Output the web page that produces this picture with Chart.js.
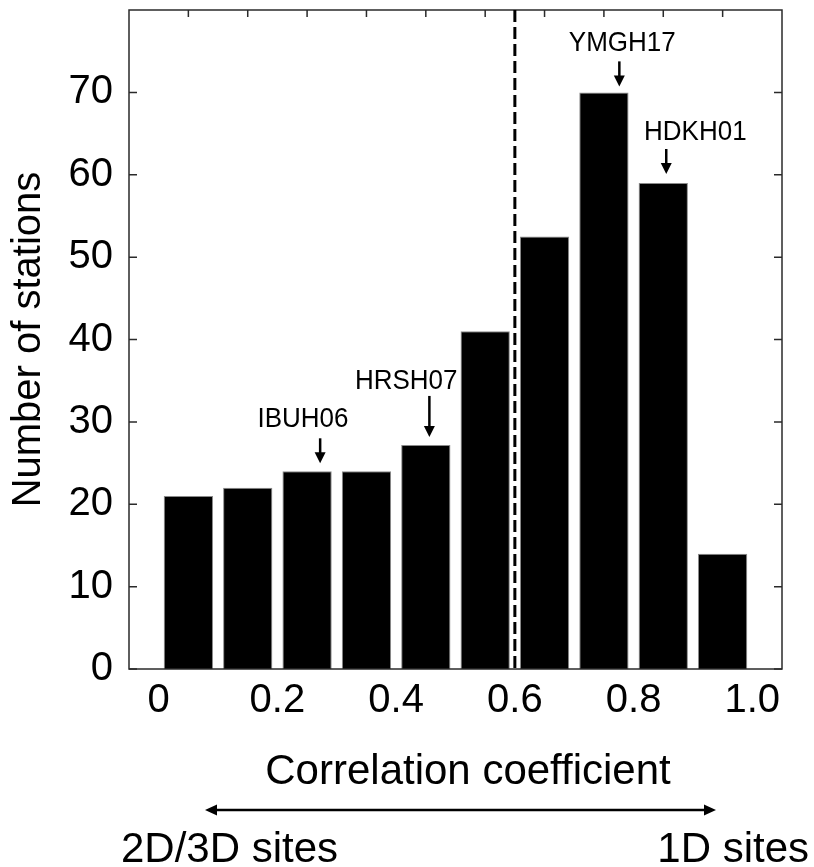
<!DOCTYPE html>
<html><head><meta charset="utf-8">
<script src="https://cdn.jsdelivr.net/npm/chart.js@4.4.1/dist/chart.umd.min.js"></script>
<style>html,body{margin:0;padding:0;background:#fff;} #wrap{width:814px;height:867px;}</style>
</head><body><div id="wrap"><canvas id="c" width="814" height="867"></canvas></div>
<script>
// ---- data ----
const binCenters = [0.05, 0.15, 0.25, 0.35, 0.45, 0.55, 0.65, 0.75, 0.85, 0.95];
const stationCounts = [21, 22, 24, 24, 27.2, 41, 52.5, 70, 59, 14];
const xTickValues = [0, 0.2, 0.4, 0.6, 0.8, 1.0];
const xTickLabels = ['0', '0.2', '0.4', '0.6', '0.8', '1.0'];
const yTickValues = [0, 10, 20, 30, 40, 50, 60, 70];
const minorTopTicks = binCenters;
const thresholdValue = 0.6;
const annotationNames = ['IBUH06', 'HRSH07', 'YMGH17', 'HDKH01'];
const annotationBinIndex = [2, 4, 7, 8];
const annotationArrowX = [0.272, 0.456, 0.776, 0.855];
const annotationTextX = [0.243, 0.417, 0.781, 0.904];
const xAxisTitle = 'Correlation coefficient';
const yAxisTitle = 'Number of stations';
const leftEndLabel = '2D/3D sites';
const rightEndLabel = '1D sites';

// ---- style ----
const FONT = '"Liberation Sans", Arial, Helvetica, sans-serif';
const annStyle = { gap: [8, 8, 6, 9], len: [25, 41, 25, 25], textGap: [11, 7, 10, 9] };

const decor = {
  id: 'decor',
  afterDatasetsDraw(chart) {
    const { ctx, chartArea: a, scales: { x, y } } = chart;
    ctx.save();
    // frame
    ctx.strokeStyle = '#2a2a2a';
    ctx.lineWidth = 1.5;
    ctx.strokeRect(a.left, a.top, a.right - a.left, a.bottom - a.top);
    // inward ticks
    ctx.beginPath();
    yTickValues.forEach(v => {
      const py = y.getPixelForValue(v);
      ctx.moveTo(a.left, py); ctx.lineTo(a.left + 8, py);
      ctx.moveTo(a.right, py); ctx.lineTo(a.right - 8, py);
    });
    minorTopTicks.forEach(v => {
      const px = x.getPixelForValue(v);
      ctx.moveTo(px, a.top); ctx.lineTo(px, a.top + 7);
    });
    ctx.stroke();
    // threshold dashed line
    const tx = x.getPixelForValue(thresholdValue);
    ctx.strokeStyle = '#fff'; ctx.lineWidth = 6;
    ctx.beginPath(); ctx.moveTo(tx, a.top + 1); ctx.lineTo(tx, a.bottom - 1); ctx.stroke();
    ctx.strokeStyle = '#000'; ctx.lineWidth = 3; ctx.setLineDash([12, 5]);
    ctx.beginPath(); ctx.moveTo(tx, a.top); ctx.lineTo(tx, a.bottom); ctx.stroke();
    ctx.setLineDash([]);
    // annotations
    ctx.fillStyle = '#000'; ctx.strokeStyle = '#000';
    ctx.font = '26px ' + FONT;
    ctx.textAlign = 'center'; ctx.textBaseline = 'alphabetic';
    annotationNames.forEach((name, i) => {
      const top = y.getPixelForValue(stationCounts[annotationBinIndex[i]]);
      const tip = top - annStyle.gap[i];
      const aTop = tip - annStyle.len[i];
      const ax = x.getPixelForValue(annotationArrowX[i]);
      ctx.lineWidth = 2.5;
      ctx.beginPath(); ctx.moveTo(ax, aTop); ctx.lineTo(ax, tip - 9); ctx.stroke();
      ctx.beginPath(); ctx.moveTo(ax - 5.5, tip - 11); ctx.lineTo(ax + 5.5, tip - 11); ctx.lineTo(ax, tip); ctx.closePath(); ctx.fill();
      ctx.save();
      const tx2 = x.getPixelForValue(annotationTextX[i]);
      const by = aTop - annStyle.textGap[i];
      ctx.translate(tx2, by); ctx.scale(1, 1.08);
      ctx.fillText(name, 0, 0);
      ctx.restore();
    });
    ctx.restore();
  },
  afterDraw(chart) {
    const { ctx } = chart;
    ctx.save();
    ctx.fillStyle = '#000'; ctx.strokeStyle = '#000';
    ctx.font = '42px ' + FONT;
    ctx.textBaseline = 'alphabetic';
    ctx.textAlign = 'center';
    ctx.fillText(xAxisTitle, 468, 784);
    // double arrow
    const y0 = 810, x1 = 205, x2 = 716;
    ctx.lineWidth = 2.5;
    ctx.beginPath(); ctx.moveTo(x1 + 8, y0); ctx.lineTo(x2 - 8, y0); ctx.stroke();
    ctx.beginPath(); ctx.moveTo(x1, y0); ctx.lineTo(x1 + 12, y0 - 5.5); ctx.lineTo(x1 + 12, y0 + 5.5); ctx.closePath(); ctx.fill();
    ctx.beginPath(); ctx.moveTo(x2, y0); ctx.lineTo(x2 - 12, y0 - 5.5); ctx.lineTo(x2 - 12, y0 + 5.5); ctx.closePath(); ctx.fill();
    ctx.textAlign = 'left';
    ctx.fillText(leftEndLabel, 121, 862);
    ctx.textAlign = 'right';
    ctx.fillText(rightEndLabel, 809, 862);
    ctx.restore();
  }
};

new Chart(document.getElementById('c'), {
  type: 'bar',
  data: {
    datasets: [{
      data: binCenters.map((v, i) => ({ x: v, y: stationCounts[i] })),
      backgroundColor: '#000',
      borderColor: '#8a8a8a',
      borderWidth: 1,
      barPercentage: 0.83,
      categoryPercentage: 1
    }]
  },
  options: {
    responsive: false,
    animation: false,
    devicePixelRatio: 1,
    layout: { padding: { top: 10, right: 32, left: 0, bottom: 0 } },
    plugins: { legend: { display: false }, tooltip: { enabled: false } },
    scales: {
      x: {
        type: 'linear', min: -0.05, max: 1.05, offset: false,
        grid: { display: false, drawTicks: false }, border: { display: false },
        afterBuildTicks: s => { s.ticks = xTickValues.map(v => ({ value: v })); },
        ticks: { autoSkip: false, maxRotation: 0, padding: 8, color: '#000',
          font: { family: FONT, size: 40 }, callback: (v, i) => xTickLabels[i] },
        afterFit: s => { s.height = 198; s.paddingLeft = 0; s.paddingRight = 0; }
      },
      y: {
        min: 0, max: 80,
        grid: { display: false, drawTicks: false }, border: { display: false },
        afterBuildTicks: s => { s.ticks = yTickValues.map(v => ({ value: v })); },
        ticks: { padding: 16, color: '#000', font: { family: FONT, size: 40 } },
        title: { display: true, text: yAxisTitle, color: '#000',
          font: { family: FONT, size: 40 }, padding: { top: 5, bottom: 0 } },
        afterFit: s => { s.width = 129; s.paddingTop = 0; s.paddingBottom = 0; }
      }
    }
  },
  plugins: [decor]
});
</script></body></html>
